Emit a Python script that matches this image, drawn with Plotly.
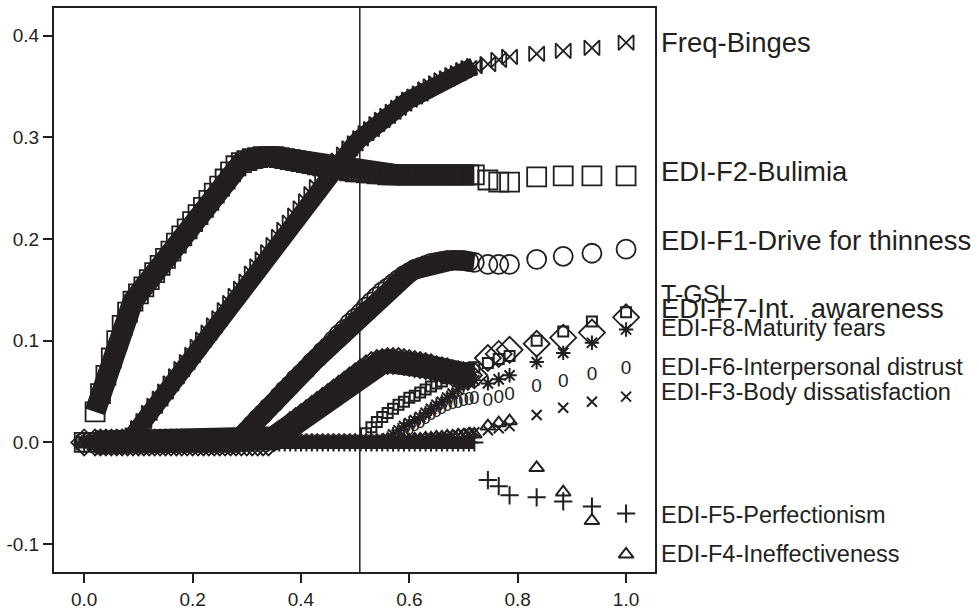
import plotly.graph_objects as go

# ---------------- data ----------------
X_VALUES = [0.00, 0.02, 0.03, 0.04, 0.05, 0.06, 0.07, 0.08, 0.09, 0.10,
            0.11, 0.12, 0.13, 0.14, 0.15, 0.16, 0.17, 0.18, 0.19, 0.20,
            0.21, 0.22, 0.23, 0.24, 0.25, 0.26, 0.27, 0.28, 0.29, 0.30,
            0.31, 0.32, 0.33, 0.34, 0.35, 0.36, 0.37, 0.38, 0.39, 0.40,
            0.41, 0.42, 0.43, 0.44, 0.45, 0.46, 0.47, 0.48, 0.49, 0.50,
            0.51, 0.52, 0.53, 0.54, 0.55, 0.56, 0.57, 0.58, 0.59, 0.60,
            0.61, 0.62, 0.63, 0.64, 0.65, 0.66, 0.67, 0.68, 0.69, 0.70,
            0.71, 0.72,
            0.745, 0.765, 0.785, 0.835, 0.884, 0.937, 1.0]
N_DENSE = 72   # first 72 steps are the densely sampled part of the path

freq_binges = [0.0] * 8 + [
    0.007, 0.014, 0.021, 0.029, 0.036, 0.043, 0.050, 0.058, 0.065, 0.072,
    0.079, 0.086, 0.094, 0.101, 0.108, 0.115, 0.122, 0.130, 0.137, 0.144,
    0.151, 0.158, 0.166, 0.173, 0.180, 0.187, 0.194, 0.202, 0.209, 0.216,
    0.223, 0.230, 0.237, 0.244, 0.251, 0.258, 0.265, 0.271, 0.277, 0.283,
    0.289, 0.294, 0.299, 0.304, 0.308, 0.313, 0.317, 0.321, 0.325, 0.329,
    0.333, 0.337, 0.340, 0.343, 0.347, 0.350, 0.353, 0.356, 0.358, 0.361,
    0.363, 0.366, 0.368, 0.370,
    0.372, 0.376, 0.379, 0.382, 0.385, 0.388, 0.393]

edi_f2_bulimia = [0.0,
    0.030, 0.048, 0.066, 0.083, 0.100, 0.115, 0.128, 0.139,
    0.146, 0.153, 0.160, 0.167, 0.174, 0.181, 0.188, 0.196, 0.203, 0.210,
    0.217, 0.224, 0.231, 0.238, 0.245, 0.252, 0.259, 0.266, 0.272,
    0.275, 0.277, 0.279, 0.280, 0.281, 0.281, 0.281, 0.280,
    0.279, 0.278, 0.277, 0.276, 0.275, 0.274, 0.273, 0.272, 0.271, 0.270,
    0.269, 0.268, 0.267, 0.266, 0.266, 0.265, 0.265, 0.264, 0.264] + [0.263] * 17 + [
    0.258, 0.256, 0.256, 0.261, 0.262, 0.262, 0.262]

edi_f1_drive = [0.0] * 28 + [
    0.006, 0.011, 0.017, 0.023, 0.028, 0.034, 0.039, 0.045, 0.051, 0.056,
    0.062, 0.067, 0.072, 0.078, 0.083, 0.089, 0.094, 0.100, 0.106, 0.111,
    0.117, 0.122, 0.127, 0.133, 0.138, 0.143, 0.148, 0.152, 0.156, 0.160,
    0.164, 0.167, 0.170, 0.172, 0.174, 0.176, 0.177, 0.178, 0.179, 0.179,
    0.179, 0.179, 0.178, 0.177,
    0.175, 0.175, 0.175, 0.180, 0.183, 0.186, 0.190]

edi_f7_awareness = [0.0] * 34 + [
    0.004, 0.008, 0.012, 0.017, 0.021, 0.025, 0.029, 0.033, 0.037, 0.041,
    0.045, 0.049, 0.053, 0.057, 0.061, 0.065, 0.069, 0.073, 0.076, 0.078,
    0.079, 0.080, 0.080, 0.080, 0.079, 0.078, 0.077, 0.076, 0.075, 0.074,
    0.072, 0.071, 0.070, 0.068, 0.067, 0.066, 0.066, 0.066,
    0.083, 0.087, 0.091, 0.097, 0.103, 0.108, 0.123]

t_gsi = [0.0] * 51 + [
    0.009, 0.015, 0.020, 0.025, 0.029, 0.033, 0.037, 0.040, 0.044, 0.046,
    0.049, 0.052, 0.055, 0.058, 0.060, 0.063, 0.066, 0.070, 0.072, 0.073,
    0.074,
    0.078, 0.082, 0.085, 0.100, 0.109, 0.119, 0.128]

edi_f8_maturity = [0.0] * 55 + [
    0.004, 0.008, 0.012, 0.016, 0.019, 0.022, 0.025, 0.029, 0.033, 0.037,
    0.040, 0.044, 0.048, 0.052, 0.056, 0.059, 0.061,
    0.058, 0.062, 0.066, 0.079, 0.088, 0.098, 0.111]

edi_f6_distrust = [0.0] * 57 + [
    0.004, 0.008, 0.012, 0.016, 0.019, 0.023, 0.027, 0.030, 0.033, 0.036,
    0.038, 0.039, 0.040, 0.041, 0.042,
    0.040, 0.043, 0.046, 0.054, 0.059, 0.066, 0.072]

edi_f3_body = [0.0] * 62 + [
    0.001, 0.002, 0.003, 0.004, 0.005, 0.006, 0.007, 0.008, 0.009, 0.010,
    0.012, 0.014, 0.016, 0.027, 0.034, 0.040, 0.045]

edi_f4_ineff = [0.0] * 57 + [
    0.001, 0.002, 0.002, 0.003, 0.003, 0.004, 0.004, 0.005, 0.005, 0.006,
    0.006, 0.007, 0.007, 0.008, 0.008,
    0.016, 0.019, 0.021, -0.025, -0.049, -0.077, -0.110]

edi_f5_perf = [0.0] * 72 + [
    -0.037, -0.043, -0.052, -0.054, -0.058, -0.063, -0.070]

LABELS = ["Freq-Binges", "EDI-F2-Bulimia", "EDI-F1-Drive for thinness", "T-GSI",
          "EDI-F7-Int.  awareness", "EDI-F8-Maturity fears",
          "EDI-F6-Interpersonal distrust", "EDI-F3-Body dissatisfaction",
          "EDI-F5-Perfectionism", "EDI-F4-Ineffectiveness"]
LABEL_Y = [0.393, 0.266, 0.1986, 0.1463, 0.132, 0.1126, 0.0739, 0.0498, -0.071, -0.1097]
LABEL_SIZE = [27.5, 27.5, 27.5, 25, 27.5, 23.5, 23.5, 23.5, 23.5, 23.5]

X_TICKS = [0.0, 0.2, 0.4, 0.6, 0.8, 1.0]
X_TICKTEXT = ["0.0", "0.2", "0.4", "0.6", "0.8", "1.0"]
Y_TICKS = [-0.1, 0.0, 0.1, 0.2, 0.3, 0.4]
Y_TICKTEXT = ["-0.1", "0.0", "0.1", "0.2", "0.3", "0.4"]
CUTOFF = 0.5086

# ---------------- figure ----------------
INK = "#231f20"
FONT = "Arial, Liberation Sans, sans-serif"

# (values, marker symbol, marker size, marker line width, width of dense band or 0)
series = [
    (edi_f2_bulimia, "square-open", 19, 1.8, 21),
    (freq_binges, "bowtie-open", 15, 1.8, 18),
    (edi_f1_drive, "circle-open", 19, 1.8, 20),
    (edi_f7_awareness, "diamond-open", 20, 1.8, 24),
    (edi_f5_perf, "cross-thin-open", 13, 2.0, 13),
    (edi_f4_ineff, "triangle-up-open", 13, 2.0, 0),
    (edi_f3_body, "x-thin-open", 10, 2.0, 0),
    (edi_f8_maturity, "asterisk-open", 12, 2.0, 0),
    (t_gsi, "square-open", 10, 2.0, 0),
]

fig = go.Figure()
for ys, sym, size, lw, band in series:
    assert len(ys) == len(X_VALUES)
    if band:
        # the densely packed steps of the path merge into a solid band
        fig.add_trace(go.Scatter(
            x=X_VALUES[1:N_DENSE], y=ys[1:N_DENSE], mode="lines",
            line=dict(color=INK, width=band),
            showlegend=False, hoverinfo="skip"))
    fig.add_trace(go.Scatter(
        x=X_VALUES, y=ys, mode="markers",
        marker=dict(symbol=sym, size=size, color=INK,
                    line=dict(color=INK, width=lw)),
        showlegend=False, hoverinfo="skip"))

assert len(edi_f6_distrust) == len(X_VALUES)
fig.add_trace(go.Scatter(
    x=X_VALUES, y=edi_f6_distrust, mode="text",
    text=["0"] * len(X_VALUES), textposition="middle center",
    textfont=dict(family=FONT, size=19, color=INK),
    showlegend=False, hoverinfo="skip"))

fig.add_shape(type="line", xref="x", yref="paper", x0=CUTOFF, x1=CUTOFF,
              y0=0, y1=1, line=dict(color=INK, width=1.5))

L, R, T, B = 53, 324, 6, 36
plot_w = 979 - L - R
for lab, ly, fs in zip(LABELS, LABEL_Y, LABEL_SIZE):
    fig.add_annotation(text=lab, xref="paper", yref="y",
                       x=(660 - L) / plot_w, y=ly, xanchor="left", yanchor="middle",
                       showarrow=False, borderpad=0,
                       font=dict(family=FONT, size=fs, color=INK))

axis_common = dict(showgrid=False, zeroline=False, showline=True, mirror=True,
                   linecolor=INK, linewidth=2, ticks="outside", ticklen=9,
                   tickwidth=2, tickcolor=INK,
                   tickfont=dict(family=FONT, size=19, color=INK))
fig.update_xaxes(range=[-0.0558, 1.0534], tickvals=X_TICKS, ticktext=X_TICKTEXT,
                 **axis_common)
fig.update_yaxes(range=[-0.1274, 0.4271], tickvals=Y_TICKS, ticktext=Y_TICKTEXT,
                 **axis_common)

fig.update_layout(width=979, height=616, autosize=False,
                  margin=dict(l=L, r=R, t=T, b=B, pad=0),
                  plot_bgcolor="white", paper_bgcolor="white",
                  font=dict(family=FONT, color=INK))

fig.write_html("out.html")
